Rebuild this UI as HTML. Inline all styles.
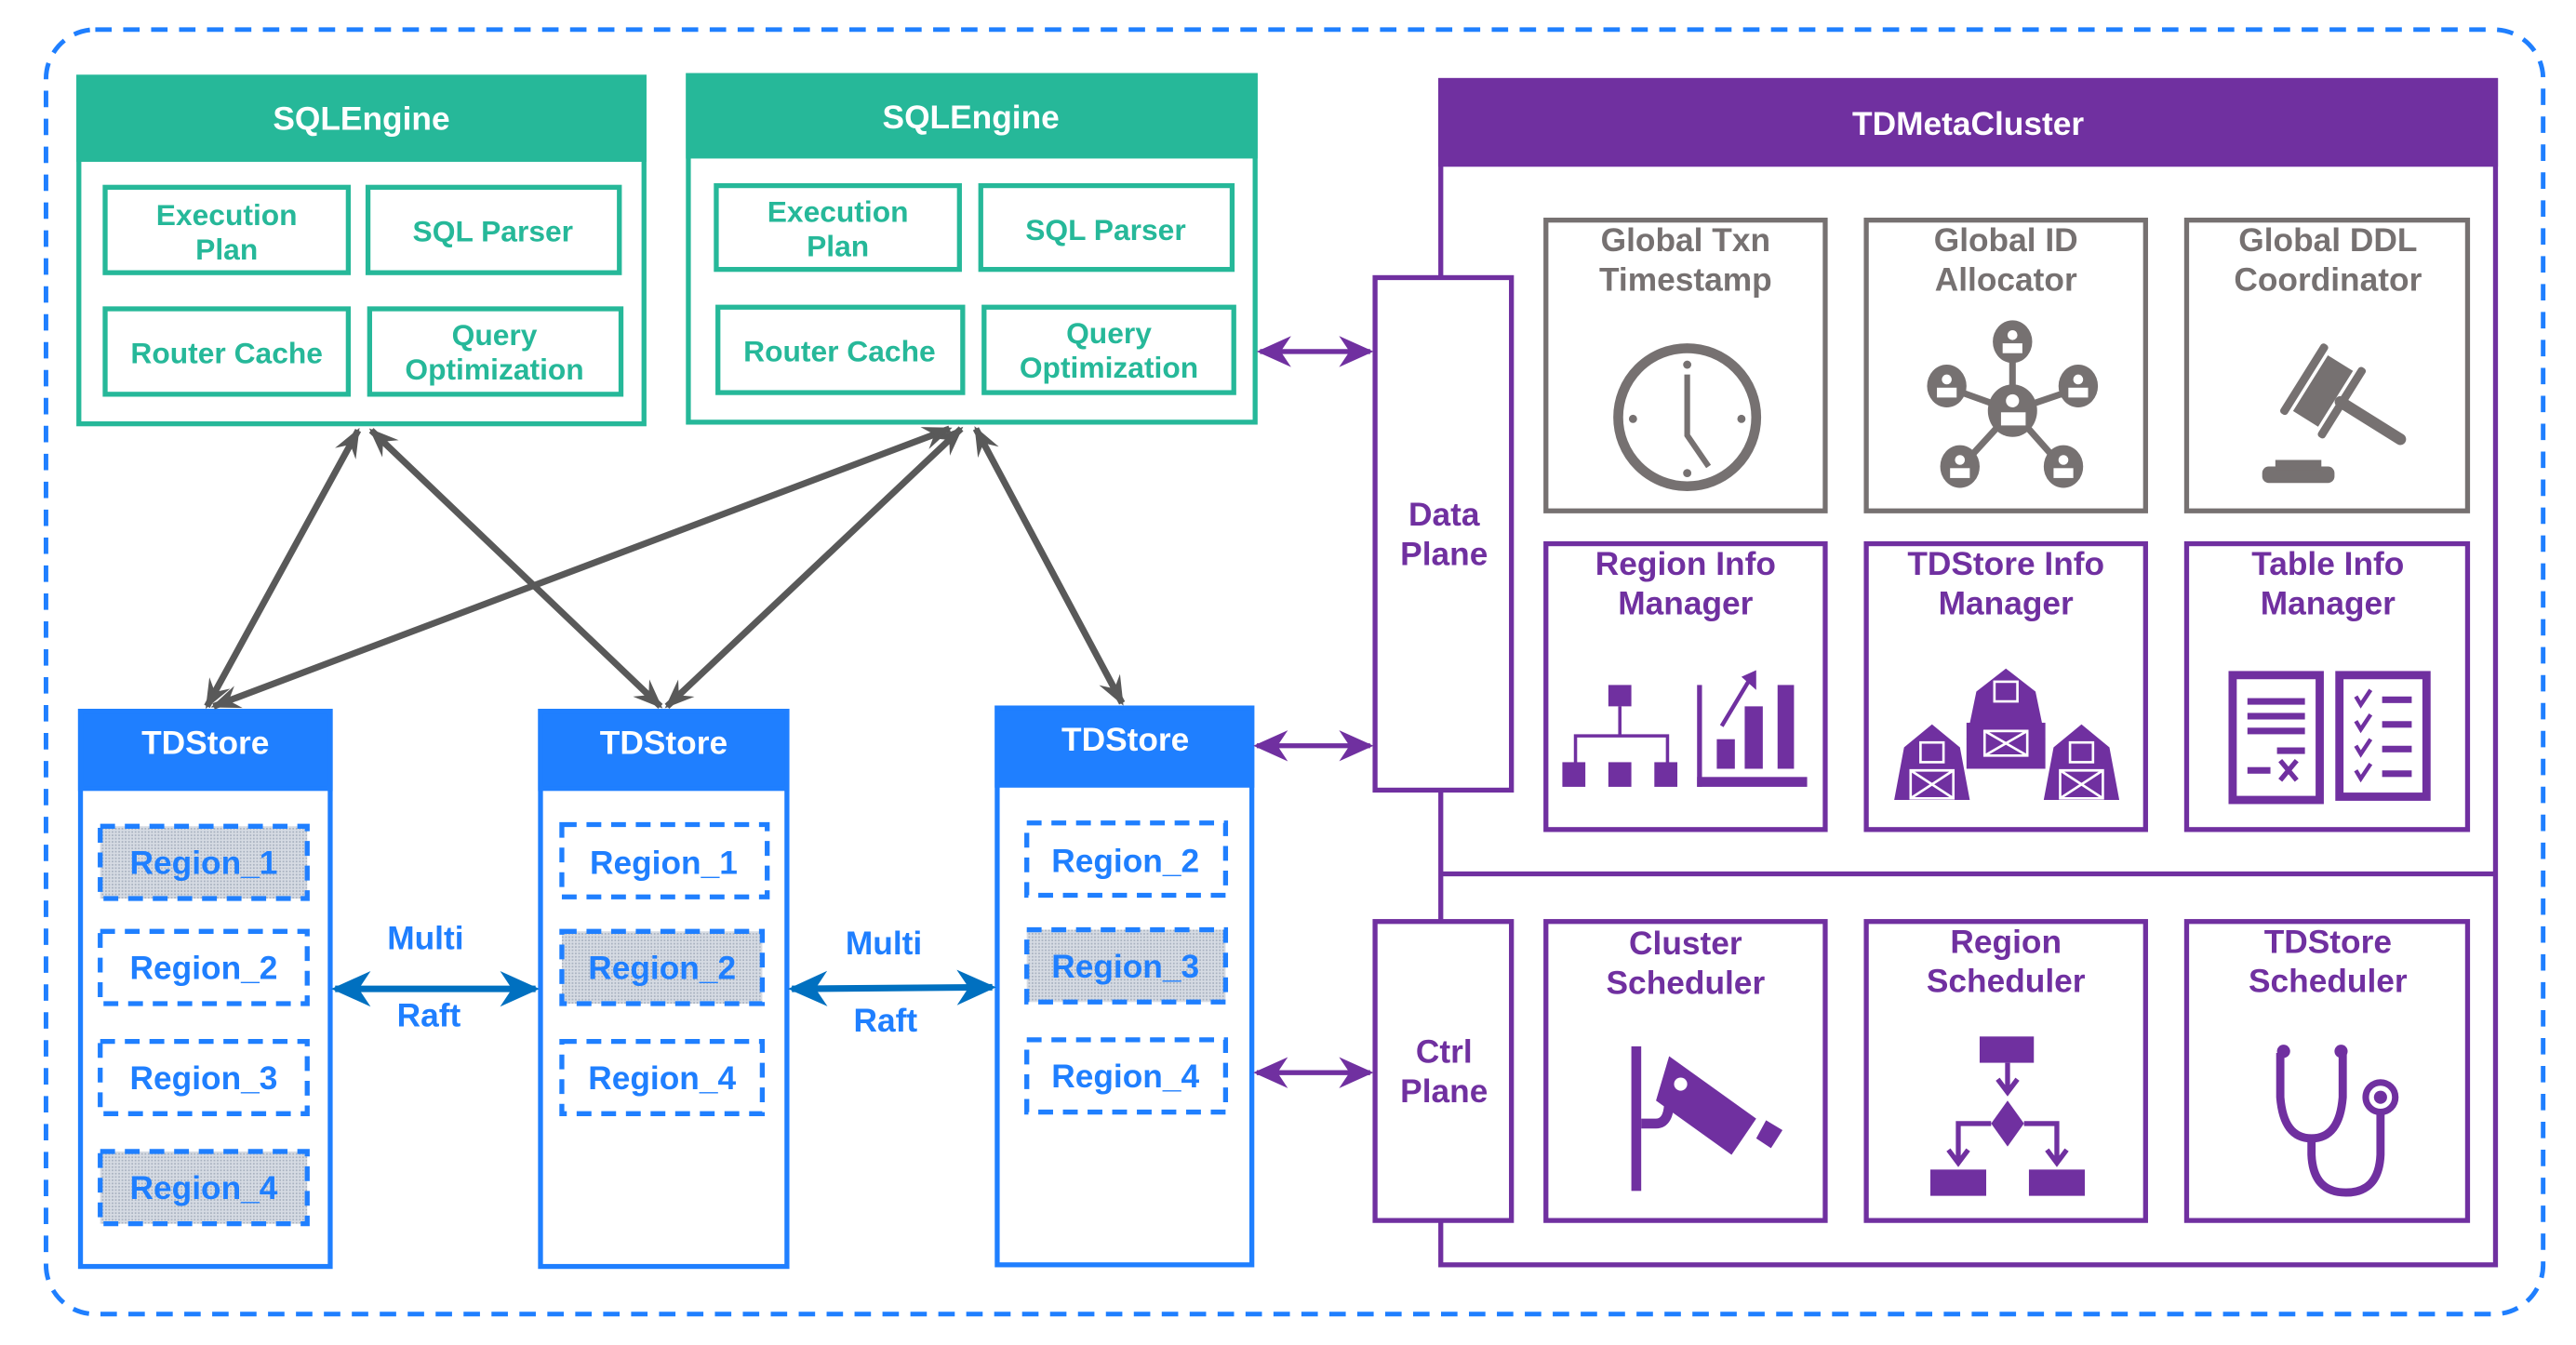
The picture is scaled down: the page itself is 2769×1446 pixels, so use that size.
<!DOCTYPE html>
<html><head><meta charset="utf-8"><style>html,body{margin:0;padding:0;background:#fff}svg{display:block}text{font-family:"Liberation Sans",sans-serif;font-weight:bold}</style></head>
<body>
<svg width="2769" height="1446" viewBox="0 0 1568 818.8" xmlns="http://www.w3.org/2000/svg">
<defs>
<marker id="gb" viewBox="0 0 20 20" refX="18" refY="10" markerWidth="18" markerHeight="18" markerUnits="userSpaceOnUse" orient="auto-start-reverse"><path d="M0,2 L20,10 L0,18 L7,10 Z" fill="#595959"/></marker>
<marker id="p" viewBox="0 0 20 20" refX="18" refY="10" markerWidth="7" markerHeight="7" orient="auto-start-reverse"><path d="M0,1 L20,10 L0,19 L6,10 Z" fill="#7030A0"/></marker>
<marker id="b" viewBox="0 0 20 20" refX="18" refY="10" markerWidth="6" markerHeight="6" orient="auto-start-reverse"><path d="M0,1 L20,10 L0,19 L6,10 Z" fill="#0070C0"/></marker>
<pattern id="dots" width="2" height="2" patternUnits="userSpaceOnUse"><rect width="2" height="2" fill="#d6dbe3"/><rect width="1" height="1" fill="#a9b2c0"/></pattern>
</defs>

<rect x="28" y="18" width="1520" height="782" rx="30" fill="none" stroke="#1F7FFF" stroke-width="2.8" stroke-dasharray="10,7"/>

<g stroke="#26B899" stroke-width="3" fill="none">
<rect x="48" y="47" width="344" height="211" fill="#fff"/>
<rect x="48" y="47" width="344" height="50" fill="#26B899"/>
<rect x="64" y="114" width="148" height="52"/><rect x="224" y="114" width="153" height="52"/>
<rect x="64" y="188" width="148" height="52"/><rect x="225" y="188" width="153" height="52"/>
<rect x="419" y="46" width="345" height="211" fill="#fff"/>
<rect x="419" y="46" width="345" height="49" fill="#26B899"/>
<rect x="436" y="113" width="148" height="51"/><rect x="597" y="113" width="153" height="51"/>
<rect x="437" y="187" width="149" height="52"/><rect x="599" y="187" width="152" height="52"/>
</g>
<g fill="#26B899" font-size="18" text-anchor="middle">
<text x="220" y="79" fill="#fff" font-size="20">SQLEngine</text>
<text x="138" y="137">Execution</text><text x="138" y="158">Plan</text>
<text x="300" y="147">SQL Parser</text>
<text x="138" y="221">Router Cache</text>
<text x="301" y="210">Query</text><text x="301" y="231">Optimization</text>
<text x="591" y="78" fill="#fff" font-size="20">SQLEngine</text>
<text x="510" y="135">Execution</text><text x="510" y="156">Plan</text>
<text x="673" y="146">SQL Parser</text>
<text x="511" y="220">Router Cache</text>
<text x="675" y="209">Query</text><text x="675" y="230">Optimization</text>
</g>

<g stroke="#1F7FFF" stroke-width="3" fill="#fff">
<rect x="49" y="433" width="152" height="338"/><rect x="49" y="433" width="152" height="47" fill="#1F7FFF"/>
<rect x="329" y="433" width="150" height="338"/><rect x="329" y="433" width="150" height="47" fill="#1F7FFF"/>
<rect x="607" y="431" width="155" height="339"/><rect x="607" y="431" width="155" height="47" fill="#1F7FFF"/>
</g>
<g stroke="#1F7FFF" stroke-width="3" stroke-dasharray="9,6" fill="#fff">
<rect x="61" y="503" width="126" height="44" fill="url(#dots)"/>
<rect x="61" y="567" width="126" height="44"/>
<rect x="61" y="634" width="126" height="44"/>
<rect x="61" y="701" width="126" height="44" fill="url(#dots)"/>
<rect x="342" y="502" width="125" height="44"/>
<rect x="342" y="567" width="122" height="44" fill="url(#dots)"/>
<rect x="342" y="634" width="122" height="44"/>
<rect x="625" y="501" width="121" height="44"/>
<rect x="625" y="566" width="121" height="44" fill="url(#dots)"/>
<rect x="625" y="633" width="121" height="44"/>
</g>
<g fill="#1F7FFF" font-size="20" text-anchor="middle">
<text x="125" y="459" fill="#fff">TDStore</text>
<text x="404" y="459" fill="#fff">TDStore</text>
<text x="685" y="457" fill="#fff">TDStore</text>
<text x="124" y="532">Region_1</text><text x="124" y="596">Region_2</text><text x="124" y="663">Region_3</text><text x="124" y="730">Region_4</text>
<text x="404" y="532">Region_1</text><text x="403" y="596">Region_2</text><text x="403" y="663">Region_4</text>
<text x="685" y="531">Region_2</text><text x="685" y="595">Region_3</text><text x="685" y="662">Region_4</text>
<text x="259" y="578">Multi</text><text x="261" y="625">Raft</text>
<text x="538" y="581">Multi</text><text x="539" y="628">Raft</text>
</g>
<line x1="204" y1="602" x2="326" y2="602" stroke="#0070C0" stroke-width="4" marker-start="url(#b)" marker-end="url(#b)"/>
<line x1="482" y1="602" x2="604" y2="601" stroke="#0070C0" stroke-width="4" marker-start="url(#b)" marker-end="url(#b)"/>

<g stroke="#595959" stroke-width="4" fill="none">
<line x1="218" y1="262" x2="126" y2="430" marker-start="url(#gb)" marker-end="url(#gb)"/>
<line x1="226" y1="262" x2="402" y2="430" marker-start="url(#gb)" marker-end="url(#gb)"/>
<line x1="578" y1="261" x2="130" y2="430" marker-start="url(#gb)" marker-end="url(#gb)"/>
<line x1="585" y1="261" x2="406" y2="430" marker-start="url(#gb)" marker-end="url(#gb)"/>
<line x1="594" y1="261" x2="683" y2="428" marker-start="url(#gb)" marker-end="url(#gb)"/>
</g>

<g stroke="#7030A0" stroke-width="3" fill="none">
<rect x="877" y="49" width="642" height="721" fill="#fff"/>
<rect x="877" y="49" width="642" height="51" fill="#7030A0"/>
<line x1="877" y1="532" x2="1519" y2="532"/>
<rect x="837" y="169" width="83" height="312" fill="#fff"/>
<rect x="837" y="561" width="83" height="182" fill="#fff"/>
<rect x="941" y="331" width="170" height="174"/><rect x="1136" y="331" width="170" height="174"/><rect x="1331" y="331" width="171" height="174"/>
<rect x="941" y="561" width="170" height="182"/><rect x="1136" y="561" width="170" height="182"/><rect x="1331" y="561" width="171" height="182"/>
</g>
<g stroke="#767171" stroke-width="3" fill="none">
<rect x="941" y="134" width="170" height="177"/><rect x="1136" y="134" width="170" height="177"/><rect x="1331" y="134" width="171" height="177"/>
</g>
<g stroke="#7030A0" stroke-width="3">
<line x1="767" y1="214" x2="834" y2="214" marker-start="url(#p)" marker-end="url(#p)"/>
<line x1="765" y1="454" x2="834" y2="454" marker-start="url(#p)" marker-end="url(#p)"/>
<line x1="765" y1="653" x2="834" y2="653" marker-start="url(#p)" marker-end="url(#p)"/>
</g>
<g font-size="20" text-anchor="middle" fill="#7030A0">
<text x="1198" y="82" fill="#fff">TDMetaCluster</text>
<text x="879" y="320">Data</text><text x="879" y="344">Plane</text>
<text x="879" y="647">Ctrl</text><text x="879" y="671">Plane</text>
<g fill="#767171"><text x="1026" y="153">Global Txn</text><text x="1026" y="177">Timestamp</text>
<text x="1221" y="153">Global ID</text><text x="1221" y="177">Allocator</text>
<text x="1417" y="153">Global DDL</text><text x="1417" y="177">Coordinator</text></g>
<text x="1026" y="350">Region Info</text><text x="1026" y="374">Manager</text>
<text x="1221" y="350">TDStore Info</text><text x="1221" y="374">Manager</text>
<text x="1417" y="350">Table Info</text><text x="1417" y="374">Manager</text>
<text x="1026" y="581">Cluster</text><text x="1026" y="605">Scheduler</text>
<text x="1221" y="580">Region</text><text x="1221" y="604">Scheduler</text>
<text x="1417" y="580">TDStore</text><text x="1417" y="604">Scheduler</text>
</g>

<g fill="#767171" stroke="#767171">
<circle cx="1027" cy="254" r="42" fill="none" stroke-width="6"/>
<path d="M1027 228 V265 L1040 284" fill="none" stroke-width="3.5"/>
<g stroke="none"><circle cx="1027" cy="222" r="2.5"/><circle cx="1027" cy="288" r="2.5"/><circle cx="994" cy="255" r="2.5"/><circle cx="1060" cy="255" r="2.5"/></g>
<g stroke-width="4"><line x1="1225" y1="210" x2="1225" y2="250"/><line x1="1225" y1="250" x2="1186" y2="236"/><line x1="1225" y1="250" x2="1266" y2="236"/><line x1="1225" y1="250" x2="1193" y2="285"/><line x1="1225" y1="250" x2="1256" y2="285"/></g>
<g stroke="none"><ellipse cx="1225" cy="208" rx="12" ry="13"/><ellipse cx="1185" cy="235" rx="12" ry="13"/><ellipse cx="1265" cy="235" rx="12" ry="13"/><ellipse cx="1225" cy="250" rx="15" ry="16"/><ellipse cx="1193" cy="284" rx="12" ry="13"/><ellipse cx="1256" cy="284" rx="12" ry="13"/></g>
<g fill="#fff" stroke="none"><circle cx="1225" cy="204" r="3"/><rect x="1219" y="209" width="12" height="6"/><circle cx="1185" cy="231" r="3"/><rect x="1179" y="236" width="12" height="6"/><circle cx="1265" cy="231" r="3"/><rect x="1259" y="236" width="12" height="6"/><circle cx="1225" cy="244" r="4"/><rect x="1218" y="251" width="15" height="8"/><circle cx="1193" cy="280" r="3"/><rect x="1187" y="285" width="12" height="6"/><circle cx="1256" cy="280" r="3"/><rect x="1250" y="285" width="12" height="6"/></g>
<g stroke="none" transform="translate(1414,238) rotate(32)">
<rect x="-9" y="-20" width="18" height="40"/>
<rect x="-16" y="-25" width="5" height="50" rx="2"/>
<rect x="11" y="-25" width="5" height="50" rx="2"/>
<rect x="9" y="-3.5" width="50" height="7" rx="3.5"/>
</g>
<g stroke="none"><rect x="1377" y="284" width="44" height="10" rx="4"/><rect x="1385" y="280" width="28" height="6"/></g>
</g>

<g fill="#7030A0" stroke="#7030A0">
<rect x="979" y="417" width="14" height="13" stroke="none"/>
<path d="M986 430 V448 M959 465 V448 H1015 V465" fill="none" stroke-width="2"/>
<g stroke="none"><rect x="951" y="464" width="14" height="15"/><rect x="979" y="464" width="14" height="15"/><rect x="1007" y="464" width="14" height="15"/>
<rect x="1033" y="417" width="3" height="62"/><rect x="1033" y="473" width="67" height="6"/><rect x="1045" y="450" width="11" height="18"/><rect x="1062" y="430" width="11" height="38"/><rect x="1082" y="417" width="10" height="51"/></g>
<path d="M1048 442 L1066 412" fill="none" stroke-width="2.5"/><path d="M1060 412 L1069 408 L1069 420 Z" stroke="none"/>
<g stroke="none">
<path d="M1203 421 L1221 407 L1239 421 L1245 450 H1197 Z"/><rect x="1197" y="440" width="48" height="28"/>
<path d="M1159 455 L1176 441 L1193 455 L1199 487 H1153 Z"/>
<path d="M1250 455 L1267 441 L1284 455 L1290 487 H1244 Z"/>
</g>
<g fill="none" stroke="#fff" stroke-width="1.5"><rect x="1214" y="415" width="14" height="12"/><rect x="1169" y="452" width="14" height="12"/><rect x="1260" y="452" width="14" height="12"/>
<path d="M1163 469 H1189 V486 H1163 Z M1163 469 L1189 486 M1189 469 L1163 486"/>
<path d="M1254 469 H1280 V486 H1254 Z M1254 469 L1280 486 M1280 469 L1254 486"/>
<path d="M1208 445 H1234 V460 H1208 Z M1208 445 L1234 460 M1234 445 L1208 460"/></g>
<rect x="1359" y="411" width="53" height="76" fill="none" stroke-width="5"/>
<rect x="1424" y="411" width="53" height="74" fill="none" stroke-width="5"/>
<g stroke="none"><rect x="1368" y="425" width="35" height="4"/><rect x="1368" y="434" width="35" height="4"/><rect x="1368" y="443" width="35" height="4"/><rect x="1386" y="455" width="17" height="4"/><rect x="1368" y="467" width="14" height="4"/>
<rect x="1450" y="424" width="18" height="4"/><rect x="1450" y="439" width="18" height="4"/><rect x="1450" y="454" width="18" height="4"/><rect x="1450" y="469" width="18" height="4"/></g>
<path d="M1388 463 L1398 475 M1398 463 L1388 475" stroke-width="3"/>
<path d="M1434 424 l3 5 l6 -9 M1434 439 l3 5 l6 -9 M1434 454 l3 5 l6 -9 M1434 469 l3 5 l6 -9" fill="none" stroke-width="2.5"/>
<rect x="993" y="637" width="6" height="88" stroke="none"/>
<path d="M999 684 H1008 Q1016 684 1016 670 V660" fill="none" stroke-width="6"/>
<path d="M1016 643 L1069 681 L1054 703 L1008 670 Z" stroke="none"/>
<circle cx="1023" cy="660" r="4" fill="#fff" stroke="none"/>
<path d="M1075 682 L1085 688 L1078 699 L1069 693 Z" stroke="none"/>
<g stroke="none"><rect x="1205" y="631" width="33" height="16"/><rect x="1175" y="712" width="34" height="16"/><rect x="1235" y="712" width="34" height="16"/><path d="M1222 670 L1232 684 L1222 698 L1212 684 Z"/></g>
<path d="M1222 647 V663 M1216 657 L1222 665 L1228 657 M1212 684 H1192 V706 M1186 700 L1192 708 L1198 700 M1232 684 H1252 V706 M1246 700 L1252 708 L1258 700" fill="none" stroke-width="3"/>
<path d="M1388 641 V668 Q1390 693 1407 693 Q1424 693 1426 668 V641" fill="none" stroke-width="5"/>
<circle cx="1390" cy="640" r="4" stroke="none"/><circle cx="1425" cy="640" r="4" stroke="none"/>
<path d="M1407 693 V703 Q1408 726 1428 726 Q1448 726 1449 703 V678" fill="none" stroke-width="5"/>
<circle cx="1449" cy="668" r="9" fill="#fff" stroke-width="4"/><circle cx="1449" cy="668" r="4" stroke="none"/>
</g>
</svg>
</body></html>
